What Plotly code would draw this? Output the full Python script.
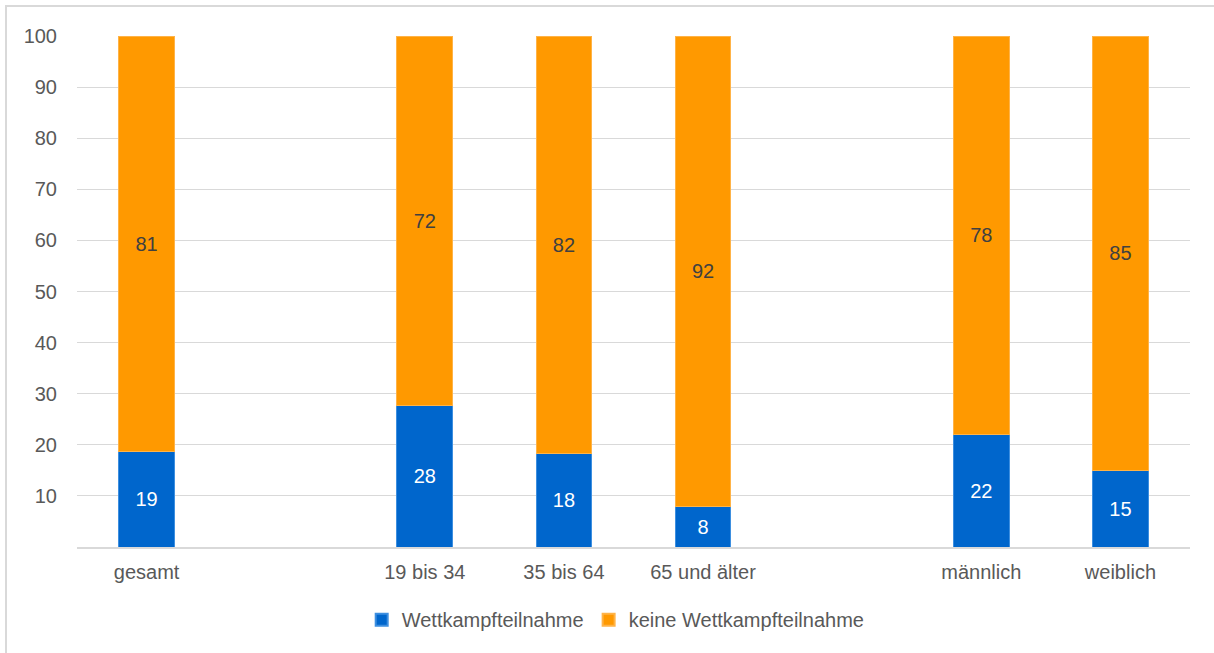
import plotly.graph_objects as go

categories = ["gesamt", " ", "19 bis 34", "35 bis 64", "65 und älter", "  ", "männlich", "weiblich"]
teilnahme = [18.7, None, 27.6, 18.3, 8.0, None, 22.0, 15.0]
keine = [81.3, None, 72.4, 81.7, 92.0, None, 78.0, 85.0]
teilnahme_labels = ["19", "", "28", "18", "8", "", "22", "15"]
keine_labels = ["81", "", "72", "82", "92", "", "78", "85"]
yticks = [10, 20, 30, 40, 50, 60, 70, 80, 90, 100]

FONT = "Liberation Sans, Arial, sans-serif"
W, H = 1214, 653
ml, mr, mt, mb = 77, 24, 36, 106

fig = go.Figure()
fig.add_trace(go.Bar(
    x=categories, y=teilnahme, name="Wettkampfteilnahme",
    marker=dict(color="#0066CC", line=dict(color="#3d8fe0", width=1)),
    text=teilnahme_labels, textposition="inside", insidetextanchor="middle",
    textangle=0, constraintext="none",
    textfont=dict(color="#FFFFFF", size=20, family=FONT),
    hoverinfo="skip",
))
fig.add_trace(go.Bar(
    x=categories, y=keine, name="keine Wettkampfteilnahme",
    marker=dict(color="#FF9900", line=dict(color="#ffb347", width=1)),
    text=keine_labels, textposition="inside", insidetextanchor="middle",
    textangle=0, constraintext="none",
    textfont=dict(color="#404040", size=20, family=FONT),
    hoverinfo="skip",
))

pw = W - ml - mr
ph = H - mt - mb
fig.add_shape(type="rect", xref="paper", yref="paper",
              x0=(6 - ml) / pw, x1=1 + (mr + 40) / pw,
              y0=-(mb + 40) / ph, y1=1 + (mt - 6) / ph,
              line=dict(color="#d9d9d9", width=2), fillcolor="rgba(0,0,0,0)", layer="below")

fig.update_layout(
    width=W, height=H,
    margin=dict(l=ml, r=mr, t=mt, b=mb, autoexpand=False),
    barmode="stack", bargap=0.6,
    plot_bgcolor="white", paper_bgcolor="white",
    font=dict(family=FONT, size=20, color="#595959"),
    showlegend=True,
    legend=dict(orientation="h", x=0.484, xanchor="center", y=-0.104, yanchor="top",
                font=dict(size=20, color="#595959"), itemwidth=30, tracegroupgap=0,
                traceorder="normal", itemsizing="constant"),
    xaxis=dict(type="category", categoryorder="array", categoryarray=categories,
               showgrid=False, showline=True, linecolor="#d9d9d9", linewidth=2,
               ticks="outside", ticklen=6, tickcolor="rgba(0,0,0,0)", automargin=False,
               tickfont=dict(size=20, color="#595959"), fixedrange=True),
    yaxis=dict(range=[0, 100], tickvals=yticks, ticktext=[str(v) for v in yticks],
               showgrid=True, gridcolor="#d9d9d9", gridwidth=1, zeroline=False,
               ticks="outside", ticklen=15, tickcolor="rgba(0,0,0,0)", automargin=False,
               tickfont=dict(size=20, color="#595959"), fixedrange=True),
)

fig.write_html("out.html")
